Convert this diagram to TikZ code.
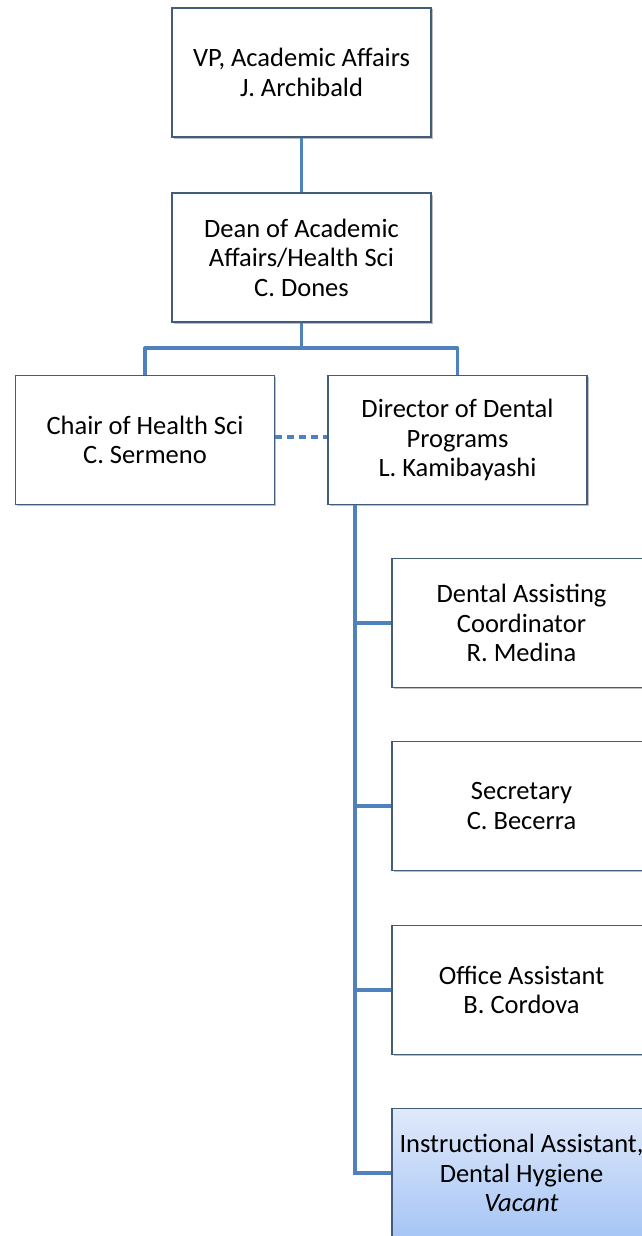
\documentclass[tikz,border=0pt]{standalone}
\usepackage{fontspec}
\setmainfont{Carlito}
\usepackage{tikz}
\usetikzlibrary{positioning, calc, shadows}
\definecolor{linkblue}{RGB}{79, 129, 189}
\definecolor{edgeblue}{RGB}{68, 92, 124}
\definecolor{vacanttop}{RGB}{224, 233, 250}
\definecolor{vacantbot}{RGB}{166, 197, 245}

\begin{document}
\begin{tikzpicture}[
    x=1pt, y=-1pt,
    post/.style={draw=edgeblue, line width=1.8pt, fill=white,
                 minimum width=259pt, minimum height=129pt,
                 inner sep=0pt, align=center,
                 font=\fontsize{26.5}{29.5}\selectfont,
                 drop shadow={shadow xshift=1.5pt, shadow yshift=-1.5pt,
                              fill=black, opacity=0.25}},
    vacant/.style={post, top color=vacanttop, bottom color=vacantbot},
    conn/.style={draw=linkblue, line width=3.2pt},
    dotted link/.style={draw=linkblue, line width=4.5pt,
                        dash pattern=on 7pt off 5pt},
  ]
    \useasboundingbox (0,0) rectangle (642,1236);

    % Top
    \node[post] (vp) at (301.5,72.5) {VP, Academic Affairs\\J. Archibald};
    \node[post] (dean) at (301.5,257.5) {Dean of Academic\\Affairs/Health Sci\\C. Dones};

    % Second level
    \node[post] (chair) at (145,440) {Chair of Health Sci\\C. Sermeno};
    \node[post] (dir) at (457.5,440) {Director of Dental\\Programs\\L. Kamibayashi};

    % Staff under the director
    \node[post] (coord) at (521.5,623) {Dental Assisting\\Coordinator\\R. Medina};
    \node[post] (secr) at (521.5,806) {Secretary\\C. Becerra};
    \node[post] (office) at (521.5,990) {Office Assistant\\B. Cordova};
    \node[vacant] (instr) at (521.5,1173) {Instructional Assistant,\\Dental Hygiene\\\textit{Vacant}};

    % Links
    \coordinate (split) at (301.5,348);
    \coordinate (trunk) at (355,505);
    \draw[conn] (vp) -- (dean);
    \draw[conn] (dean) -- (split);
    \draw[conn, line join=round] (chair.north) |- (split) -| (dir.north);
    \draw[dotted link] (chair.east) ++(0,-3) -- ($(dir.west)+(0,-3)$);
    \draw[conn] (trunk) |- (instr.west);
    \foreach \n in {coord,secr,office}
      \draw[conn] (trunk |- \n.west) -- (\n.west);
\end{tikzpicture}
\end{document}
